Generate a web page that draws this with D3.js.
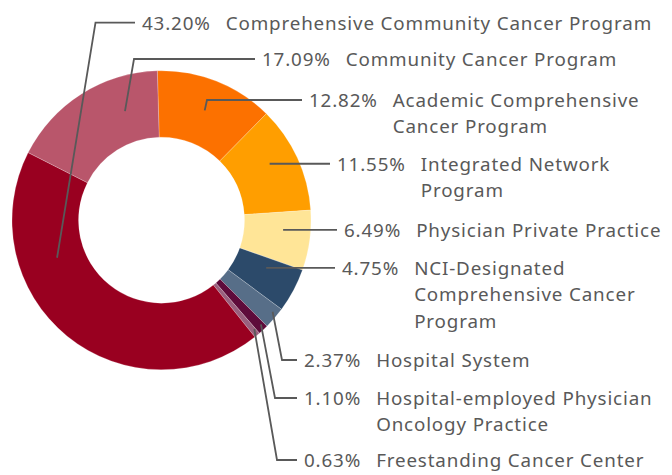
<!DOCTYPE html>
<html>
<head>
<meta charset="utf-8">
<script src="https://cdn.jsdelivr.net/npm/d3@7"></script>
<style>
body{margin:0;background:#fff;}
svg{display:block;}
.lbl{font-family:"Noto Sans","Open Sans",sans-serif;font-size:18.8px;fill:#595959;letter-spacing:0.85px;}
.leader{fill:none;stroke:#595959;stroke-width:1.8;}
</style>
</head>
<body>
<div id="chart"></div>
<script>
var w = 672;
var h = 475;

// data
var categories = [
  "Academic Comprehensive|Cancer Program",
  "Integrated Network|Program",
  "Physician Private Practice",
  "NCI-Designated|Comprehensive Cancer|Program",
  "Hospital System",
  "Hospital-employed Physician|Oncology Practice",
  "Freestanding Cancer Center",
  "Comprehensive Community Cancer Program",
  "Community Cancer Program"
];
var shares = [12.82, 11.55, 6.49, 4.75, 2.37, 1.10, 0.63, 43.20, 17.09];
var colours = ["#FC7100", "#FF9E00", "#FFE597", "#2C4A6A", "#576E88",
               "#5E0B3A", "#99607E", "#990020", "#B9566B"];

// label layout: where the leader leaves the slice (t along slice, radius),
// elbow x / line y (null = straight), end x of the leader
var leaderT   = [0.50, 0.43, 0.36, 0.29, 0.34, 0.30, 0.20, 0.70, 0.725];
var leaderR   = [118, 122, 122, 115, 144, 144, 143, 111, 115];
var elbowX    = [207, null, null, null, 282, 275, 277, 95.5, 134];
var lineY     = [100, null, null, null, 360, 398, 460, 22.7, 59];
var leaderEnd = [302, 330, 337, 335, 297, 297, 297, 135, 255];

var cx = 161.5, cy = 220.2;
var outerR = 149.5, innerR = 83;
var offset = -1.6 * Math.PI / 180;

var svg = d3.select("#chart").append("svg")
  .attr("width", w)
  .attr("height", h);

var pie = d3.pie()
  .sort(null)
  .value(function(d){ return d; })
  .startAngle(offset)
  .endAngle(offset + 2 * Math.PI);

var arcs = pie(shares);

var arc = d3.arc()
  .innerRadius(innerR)
  .outerRadius(outerR);

var g = svg.append("g").attr("transform", "translate(" + cx + "," + cy + ")");

g.selectAll("path.slice")
  .data(arcs)
  .enter().append("path")
  .attr("class", "slice")
  .attr("d", arc)
  .attr("fill", function(d, i){ return colours[i]; })
  .attr("stroke", "#fff")
  .attr("stroke-opacity", 0.35)
  .attr("stroke-width", 0.6);

function pointOn(a, i){
  var ang = a.startAngle + leaderT[i] * (a.endAngle - a.startAngle);
  var r = leaderR[i];
  return [cx + r * Math.sin(ang), cy - r * Math.cos(ang)];
}

var lineGen = d3.line();

arcs.forEach(function(a, i){
  var p0 = pointOn(a, i);
  var pts, y;
  if (elbowX[i] === null) {
    y = p0[1];
    pts = [p0, [leaderEnd[i], y]];
  } else {
    y = lineY[i];
    pts = [p0, [elbowX[i], y], [leaderEnd[i], y]];
  }
  svg.append("path")
    .attr("class", "leader")
    .attr("d", lineGen(pts));

  var tx = leaderEnd[i] + 7;
  var baseY = y + 6.8;
  var pct = svg.append("text")
    .attr("class", "lbl")
    .attr("x", tx)
    .attr("y", baseY)
    .text(shares[i].toFixed(2) + "%");
  var nameX = tx + pct.node().getComputedTextLength() + 15;
  var lines = categories[i].split("|");
  var t = svg.append("text")
    .attr("class", "lbl")
    .attr("x", nameX)
    .attr("y", baseY);
  lines.forEach(function(s, k){
    t.append("tspan")
      .attr("x", nameX)
      .attr("dy", k === 0 ? 0 : 26.5)
      .text(s);
  });
});
</script>
</body>
</html>
